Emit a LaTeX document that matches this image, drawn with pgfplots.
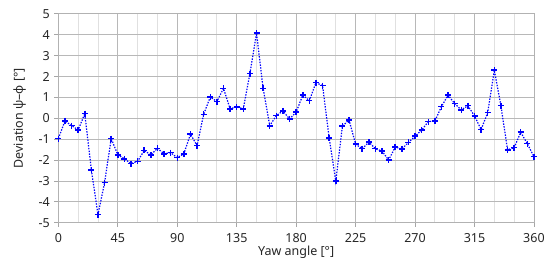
\documentclass[border={10pt 2pt 2pt 6pt}]{standalone}
\usepackage{pgfplots}
\pgfplotsset{compat=1.18}
\usepackage{fontspec}
\setmainfont{Noto Sans}
\begin{document}
\begin{tikzpicture}
\begin{axis}[
    scale only axis,
    width=476pt, height=209pt,
    xmin=0, xmax=360, ymin=-5, ymax=5,
    xtick={0,45,...,360},
    minor xtick={15,30,60,75,105,120,150,165,195,210,240,255,285,300,330,345},
    ytick={-5,-4,...,5},
    grid=both,
    major grid style={draw=black!28, line width=0.8pt},
    minor grid style={draw=black!12, line width=0.8pt},
    axis line style={draw=black!30, line width=0.8pt},
    tick style={draw=black!35, line width=0.8pt},
    tick align=outside,
    major tick length=4pt,
    minor tick length=0pt,
    xtick pos=bottom, ytick pos=left,
    /pgf/number format/assume math mode=true,
    tick label style={font=\fontsize{12.5}{14}\selectfont, text=black!85},
    yticklabel style={xshift=-1pt},
    xticklabel style={yshift=-3pt},
    label style={font=\fontsize{12.5}{14}\selectfont, text=black!85},
    xlabel={Yaw angle [°]},
    ylabel={Deviation ψ–φ [°]},
    xlabel style={yshift=3pt},
    ylabel style={yshift=6pt},
]
\addplot[blue, dash pattern={on 1.4pt off 1.4pt}, line width=1.2pt, mark=+, mark size=3pt,
    mark options={solid, line width=1.5pt}] table {
x y
0 -0.97
5 -0.13
10 -0.35
15 -0.56
20 0.22
25 -2.48
30 -4.62
35 -3.08
40 -0.97
45 -1.75
50 -1.94
55 -2.17
60 -2.06
65 -1.54
70 -1.76
75 -1.44
80 -1.70
85 -1.65
90 -1.89
95 -1.70
100 -0.76
105 -1.31
110 0.19
115 1.02
120 0.80
125 1.43
130 0.45
135 0.55
140 0.45
145 2.14
150 4.08
155 1.43
160 -0.36
165 0.13
170 0.35
175 -0.03
180 0.29
185 1.11
190 0.84
195 1.71
200 1.56
205 -0.95
210 -3.01
215 -0.38
220 -0.08
225 -1.24
230 -1.46
235 -1.14
240 -1.46
245 -1.57
250 -2.00
255 -1.38
260 -1.47
265 -1.16
270 -0.86
275 -0.57
280 -0.16
285 -0.13
290 0.56
295 1.11
300 0.70
305 0.40
310 0.60
315 0.11
320 -0.54
325 0.27
330 2.30
335 0.60
340 -1.51
345 -1.41
350 -0.67
355 -1.22
360 -1.84
};
\end{axis}
\end{tikzpicture}
\end{document}
